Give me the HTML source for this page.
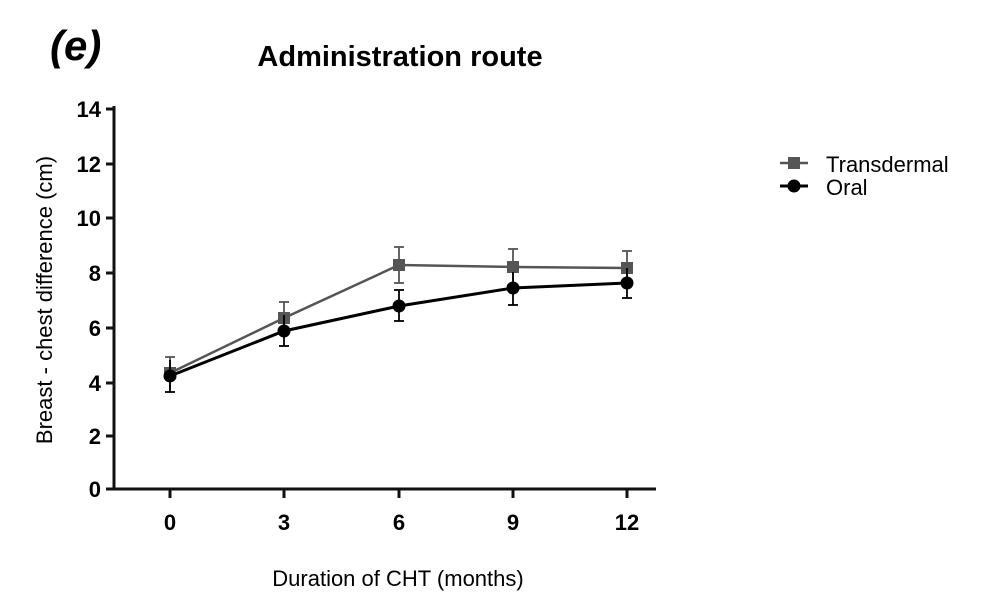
<!DOCTYPE html>
<html><head><style>body{margin:0;background:#fff}svg{display:block}</style></head><body>
<svg width="1008" height="613" viewBox="0 0 1008 613" font-family="Liberation Sans, sans-serif">
<text x="50" y="60" font-size="42" font-weight="bold" font-style="italic">(e)</text>
<text x="400" y="66" font-size="29" font-weight="bold" text-anchor="middle">Administration route</text>
<g stroke="#111" stroke-width="3" fill="none">
<line x1="114" y1="106" x2="114" y2="490"/>
<line x1="112" y1="489" x2="656" y2="489"/>
</g>
<g stroke="#111" stroke-width="3">
<line x1="106" y1="109" x2="114" y2="109"/><line x1="106" y1="164" x2="114" y2="164"/><line x1="106" y1="218" x2="114" y2="218"/><line x1="106" y1="273" x2="114" y2="273"/><line x1="106" y1="328" x2="114" y2="328"/><line x1="106" y1="383" x2="114" y2="383"/><line x1="106" y1="436" x2="114" y2="436"/><line x1="106" y1="489" x2="114" y2="489"/>
<line x1="170" y1="489" x2="170" y2="498"/><line x1="284" y1="489" x2="284" y2="498"/><line x1="399" y1="489" x2="399" y2="498"/><line x1="513" y1="489" x2="513" y2="498"/><line x1="627" y1="489" x2="627" y2="498"/>
</g>
<g font-size="22" font-weight="bold" text-anchor="end">
<text x="101" y="117">14</text><text x="101" y="172">12</text><text x="101" y="226">10</text><text x="101" y="281">8</text><text x="101" y="336">6</text><text x="101" y="391">4</text><text x="101" y="444">2</text><text x="101" y="497">0</text>
</g>
<g font-size="22" font-weight="bold" text-anchor="middle">
<text x="170" y="530">0</text><text x="284" y="530">3</text><text x="399" y="530">6</text><text x="513" y="530">9</text><text x="627" y="530">12</text>
</g>
<text x="398" y="586" font-size="22" text-anchor="middle">Duration of CHT (months)</text>
<text transform="translate(52,300) rotate(-90)" font-size="22" text-anchor="middle">Breast - chest difference (cm)</text>
<g stroke="#555" stroke-width="2.5" fill="none">
<polyline points="170,373 284,318 399,265 513,267 627,268"/>
</g>
<g stroke="#555" stroke-width="1.8">
<line x1="170" y1="357" x2="170" y2="389"/><line x1="165" y1="357" x2="175" y2="357"/>
<line x1="284" y1="302" x2="284" y2="334"/><line x1="279" y1="302" x2="289" y2="302"/>
<line x1="399" y1="247" x2="399" y2="283"/><line x1="394" y1="247" x2="404" y2="247"/><line x1="394" y1="283" x2="404" y2="283"/>
<line x1="513" y1="249" x2="513" y2="281"/><line x1="508" y1="249" x2="518" y2="249"/>
<line x1="627" y1="251" x2="627" y2="281"/><line x1="622" y1="251" x2="632" y2="251"/>
</g>
<g fill="#555">
<rect x="164" y="367" width="12" height="12"/><rect x="278" y="312" width="12" height="12"/><rect x="393" y="259" width="12" height="12"/><rect x="507" y="261" width="12" height="12"/><rect x="621" y="262" width="12" height="12"/>
</g>
<g stroke="#000" stroke-width="3" fill="none">
<polyline points="170,376 284,331 399,306 513,288 627,283"/>
</g>
<g stroke="#000" stroke-width="1.8">
<line x1="170" y1="360" x2="170" y2="392"/><line x1="165" y1="392" x2="175" y2="392"/>
<line x1="284" y1="315" x2="284" y2="346"/><line x1="279" y1="346" x2="289" y2="346"/>
<line x1="399" y1="290" x2="399" y2="321"/><line x1="394" y1="290" x2="404" y2="290"/><line x1="394" y1="321" x2="404" y2="321"/>
<line x1="513" y1="272" x2="513" y2="305"/><line x1="508" y1="305" x2="518" y2="305"/>
<line x1="627" y1="268" x2="627" y2="298"/><line x1="622" y1="298" x2="632" y2="298"/>
</g>
<g fill="#000">
<circle cx="170" cy="376" r="6.5"/><circle cx="284" cy="331" r="6.5"/><circle cx="399" cy="306" r="6.5"/><circle cx="513" cy="288" r="6.5"/><circle cx="627" cy="283" r="6.5"/>
</g>
<line x1="780" y1="163" x2="808" y2="163" stroke="#555" stroke-width="2.5"/>
<rect x="788" y="157" width="12" height="12" fill="#555"/>
<text x="826" y="172" font-size="22">Transdermal</text>
<line x1="780" y1="186" x2="808" y2="186" stroke="#000" stroke-width="3"/>
<circle cx="794" cy="186" r="6.5" fill="#000"/>
<text x="826" y="195" font-size="22">Oral</text>
</svg>
</body></html>
